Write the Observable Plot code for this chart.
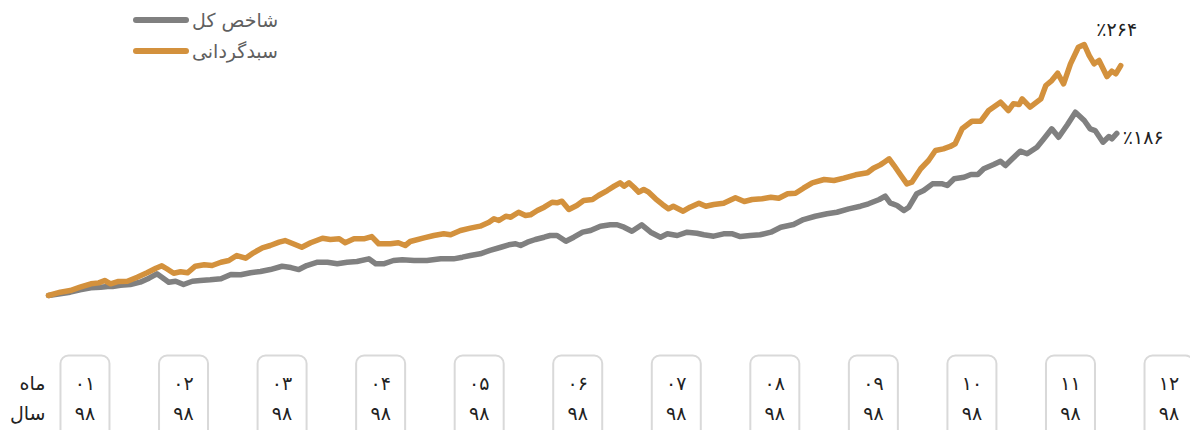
<!DOCTYPE html>
<html>
<head>
<meta charset="utf-8">
<script src="https://cdn.jsdelivr.net/npm/d3@7"></script>
<script src="https://cdn.jsdelivr.net/npm/@observablehq/plot@0.6"></script>
<style>
  html, body { margin: 0; padding: 0; background: #fff; }
  #wrap { position: relative; width: 1190px; height: 430px; overflow: hidden; }
  .legend { position: absolute; left: 133px; font-family: "DejaVu Sans", sans-serif; font-size: 19px; color: #5f5f5f; display: flex; align-items: center; }
  .legend .sw { width: 56px; height: 6px; border-radius: 3px; margin-right: 3px; }
</style>
</head>
<body>
<div id="wrap"></div>
<script>
// Series names
const seriesNames = ["شاخص کل", "سبدگردانی"];
const seriesColors = ["#808080", "#D3913D"];

// Time in month units (month m spans [m-1, m]), cumulative return in percent
const portfolioT = [0.13,0.25,0.35,0.45,0.56,0.64,0.70,0.76,0.84,0.93,1.03,1.13,1.22,1.28,1.33,1.40,1.47,1.54,1.62,1.71,1.79,1.88,1.96,2.04,2.13,2.21,2.30,2.38,2.47,2.53,2.60,2.70,2.79,2.91,2.99,3.08,3.14,3.23,3.33,3.41,3.48,3.60,3.68,3.75,3.80,3.94,4.04,4.14,4.21,4.31,4.41,4.51,4.60,4.65,4.70,4.77,4.82,4.90,4.97,5.02,5.09,5.16,5.24,5.29,5.34,5.41,5.49,5.56,5.65,5.71,5.80,5.87,5.93,5.97,6.02,6.07,6.12,6.17,6.22,6.29,6.36,6.42,6.47,6.57,6.64,6.73,6.80,6.88,6.98,7.10,7.19,7.27,7.37,7.46,7.54,7.63,7.71,7.79,7.88,8.00,8.10,8.20,8.32,8.44,8.50,8.57,8.61,8.66,8.71,8.78,8.84,8.89,8.98,9.06,9.13,9.21,9.28,9.33,9.40,9.50,9.59,9.67,9.79,9.87,9.92,9.98,10.01,10.09,10.20,10.25,10.31,10.37,10.43,10.50,10.58,10.64,10.69,10.74,10.79,10.87,10.92,10.96,11.01];
const portfolioV = [0,3.8,5.7,9.5,13.4,14.5,17.2,13.4,16.1,16.4,21.0,26.1,31.3,34.1,30.7,25.6,27.2,26.1,33.6,35.2,34.4,38.2,40.2,45.9,42.8,49.0,54.8,57.4,61.2,63.1,60.0,55.4,60.5,65.8,64.3,65.1,60.5,65.1,65.1,67.7,59.4,59.4,60.5,57.4,62.0,66.2,68.9,70.8,69.7,74.6,77.3,79.6,84.1,88.1,86.1,91.0,89.9,95.6,91.8,92.6,97.6,101.4,107.1,106.4,108.3,98.7,103.3,109.1,110.2,114.8,120.5,125.5,129.4,125.5,129.4,124.3,118.6,121.7,118.6,111.0,104.5,99.5,102.5,96.8,101.4,106.0,102.5,104.5,106.0,112.2,107.9,110.2,111.0,112.8,111.7,116.8,117.4,123.2,129.4,133.2,132.0,134.7,138.6,140.9,146.1,150.0,153.0,156.9,149.2,137.8,128.2,130.1,145.5,155.0,166.5,168.4,171.1,174.2,191.4,200.1,200.1,212.4,221.9,212.4,220.1,219.3,225.8,216.2,225.8,241.1,246.8,255.2,243.0,266.0,285.0,288.1,275.5,266.0,269.8,251.4,257.5,254.5,264];

const indexT = [0.13,0.35,0.45,0.56,0.66,0.73,0.78,0.86,0.96,1.06,1.15,1.23,1.28,1.35,1.42,1.50,1.59,1.67,1.77,1.88,1.98,2.08,2.18,2.28,2.38,2.50,2.59,2.67,2.75,2.86,2.96,3.06,3.16,3.26,3.38,3.45,3.53,3.63,3.72,3.84,3.97,4.11,4.24,4.33,4.41,4.51,4.61,4.72,4.80,4.87,4.92,4.99,5.07,5.16,5.22,5.29,5.38,5.46,5.55,5.63,5.73,5.83,5.90,5.97,6.05,6.15,6.24,6.34,6.41,6.51,6.61,6.71,6.78,6.88,6.98,7.07,7.15,7.25,7.35,7.46,7.56,7.69,7.79,7.91,8.03,8.13,8.25,8.37,8.45,8.56,8.62,8.67,8.74,8.81,8.86,8.94,9.01,9.10,9.20,9.25,9.32,9.42,9.49,9.56,9.62,9.72,9.79,9.84,9.91,9.99,10.06,10.16,10.23,10.31,10.38,10.47,10.55,10.64,10.70,10.75,10.83,10.89,10.92,10.97];
const indexV = [0,3.8,6.5,8.8,9.5,10.3,10.3,11.8,12.6,15.3,19.9,24.9,21.0,15.3,16.4,12.6,16.4,17.2,18.0,19.2,24.1,23.8,26.1,27.6,29.8,33.6,32.1,29.8,34.4,38.2,38.2,36.4,38.2,39.0,42.1,36.4,36.4,40.2,41.0,40.2,40.2,42.1,42.1,44.0,45.9,47.9,51.7,55.4,58.2,59.4,57.4,61.2,64.3,66.9,68.9,68.9,62.3,66.9,72.7,74.6,79.6,81.2,81.2,78.4,73.8,81.2,72.7,66.9,70.8,68.9,72.7,71.5,69.7,68.1,70.8,70.8,67.7,68.9,69.7,72.7,78.4,81.5,87.2,91.0,93.8,95.6,99.5,102.5,105.3,110.2,114.0,106.4,103.3,97.6,101.4,116.8,120.5,128.2,128.2,126.3,134.0,135.8,138.9,138.9,145.5,150.4,154.2,149.2,156.9,165.7,162.7,170.2,179.9,191.4,181.7,196.3,210.4,200.9,191.4,189.4,176.0,182.5,179.9,186];

// Axis labels
const monthLabels = ["۰۱","۰۲","۰۳","۰۴","۰۵","۰۶","۰۷","۰۸","۰۹","۱۰","۱۱","۱۲"];
const yearLabel = "۹۸";
const rowLabels = ["ماه", "سال"];
const endLabels = ["٪۱۸۶", "٪۲۶۴"];

// Build tables
const indexData = indexT.map((t, i) => ({t, v: indexV[i], s: seriesNames[0]}));
const portData = portfolioT.map((t, i) => ({t, v: portfolioV[i], s: seriesNames[1]}));
const all = indexData.concat(portData);
const ticks = monthLabels.map((m, i) => ({t: i + 0.5, month: m, year: yearLabel}));
const ends = [
  {...indexData[indexData.length - 1], label: endLabels[0]},
  {...portData[portData.length - 1], label: endLabels[1]}
];

const boxSymbol = {
  draw(ctx) {
    const w = 49, h = 90, r = 8;
    const x0 = -w / 2, x1 = w / 2, y0 = -h / 2, y1 = h / 2;
    ctx.moveTo(x0 + r, y0);
    ctx.lineTo(x1 - r, y0);
    ctx.arcTo(x1, y0, x1, y0 + r, r);
    ctx.lineTo(x1, y1 - r);
    ctx.arcTo(x1, y1, x1 - r, y1, r);
    ctx.lineTo(x0 + r, y1);
    ctx.arcTo(x0, y1, x0, y1 - r, r);
    ctx.lineTo(x0, y0 + r);
    ctx.arcTo(x0, y0, x0 + r, y0, r);
    ctx.closePath();
  }
};

const font = "DejaVu Sans, sans-serif";

const chart = Plot.plot({
  width: 1190,
  height: 430,
  marginTop: 33.7,
  marginBottom: 135,
  marginLeft: 35,
  marginRight: 0,
  style: {fontFamily: font, background: "transparent"},
  x: {domain: [0, 12], range: [35.2, 1217.8], axis: null},
  y: {domain: [0, 300], range: [295, 33.7], axis: null},
  color: {domain: seriesNames, range: seriesColors},
  marks: [
    Plot.dot(ticks, {x: "t", frameAnchor: "bottom", dy: 105, symbol: boxSymbol, stroke: "#d9d9d9", strokeWidth: 2, fill: "none"}),
    Plot.text(ticks, {x: "t", text: "month", frameAnchor: "bottom", lineAnchor: "middle", dy: 88, fontSize: 19, fill: "#222"}),
    Plot.text(ticks, {x: "t", text: "year", frameAnchor: "bottom", lineAnchor: "middle", dy: 118, fontSize: 19, fill: "#222"}),
    Plot.text([rowLabels[0]], {text: d => d, frameAnchor: "bottom-left", textAnchor: "end", lineAnchor: "middle", dx: 10, dy: 88, fontSize: 19, fill: "#222"}),
    Plot.text([rowLabels[1]], {text: d => d, frameAnchor: "bottom-left", textAnchor: "end", lineAnchor: "middle", dx: 10, dy: 118, fontSize: 19, fill: "#222"}),
    Plot.line(all, {x: "t", y: "v", z: "s", stroke: "s", strokeWidth: 5.5, strokeLinejoin: "round", strokeLinecap: "round"}),
    Plot.text([ends[0]], {x: "t", y: "v", text: "label", textAnchor: "start", dx: 6, dy: 4, fontSize: 19, fill: "#222"}),
    Plot.text([ends[1]], {x: "t", y: "v", text: "label", textAnchor: "middle", dx: -4, dy: -36, fontSize: 19, fill: "#222"})
  ]
});

const wrap = document.getElementById("wrap");
wrap.appendChild(chart);

// Legend (HTML)
seriesNames.forEach((name, i) => {
  const row = document.createElement("div");
  row.className = "legend";
  row.style.top = (i === 0 ? 9 : 40) + "px";
  const sw = document.createElement("div");
  sw.className = "sw";
  sw.style.background = seriesColors[i];
  const lab = document.createElement("span");
  lab.textContent = name;
  row.appendChild(sw);
  row.appendChild(lab);
  wrap.appendChild(row);
});
</script>
</body>
</html>
